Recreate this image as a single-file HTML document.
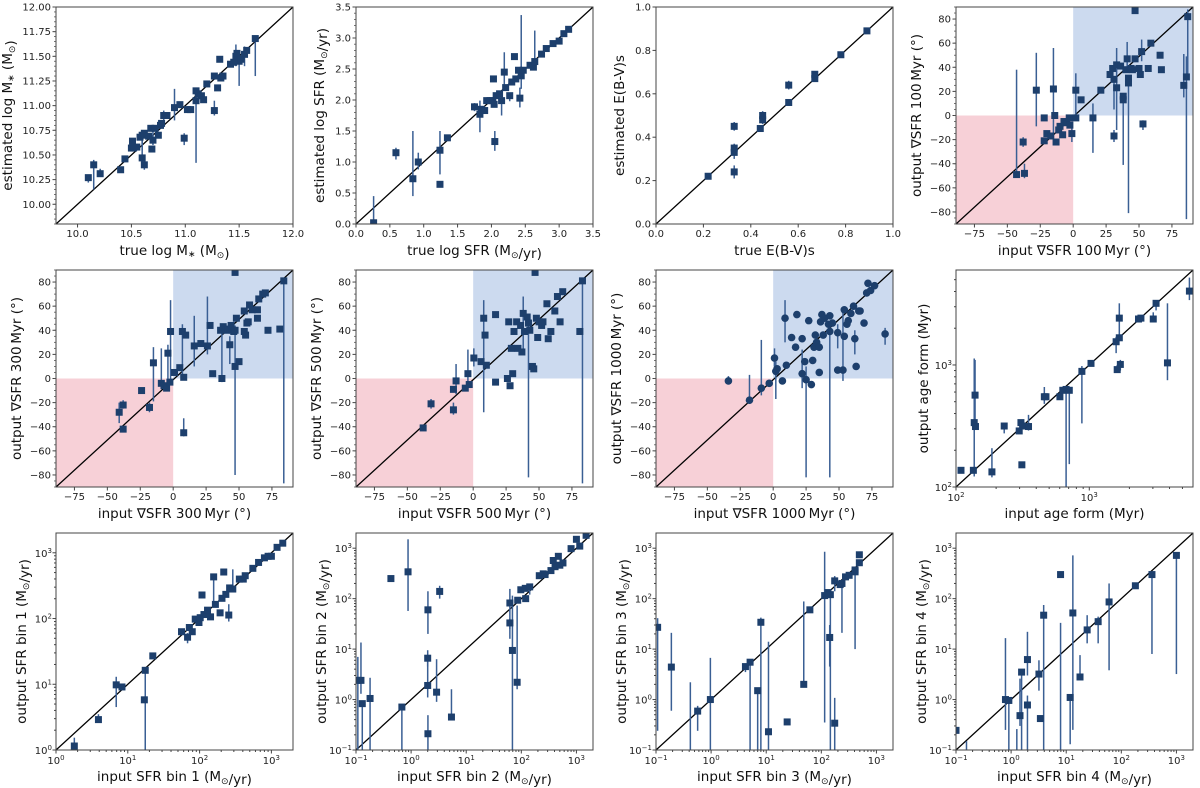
<!DOCTYPE html>
<html><head><meta charset="utf-8"><style>
html,body{margin:0;padding:0;background:#fff;}
svg{display:block;font-family:"DejaVu Sans","Liberation Sans",sans-serif;}
</style></head><body>
<svg id="fig" width="1200" height="788" viewBox="0 0 1200 788"></svg>
<script>
// ---- data: [x, y, yLo, yHi] (yLo/yHi optional) ----
const massPts=[[10.1,10.27,10.22,10.3],[10.15,10.4,10.15,10.45],[10.21,10.31,10.28,10.36],[10.4,10.35],[10.44,10.46],[10.5,10.57],[10.51,10.64],[10.52,10.57],[10.55,10.58],[10.58,10.68],[10.6,10.7,10.55,10.75],[10.6,10.47,10.4,10.7],[10.62,10.4,10.35,10.45],[10.62,10.72],[10.66,10.69],[10.68,10.77],[10.69,10.56],[10.7,10.65,10.6,10.8],[10.72,10.77],[10.75,10.7],[10.77,10.8],[10.78,10.82],[10.8,10.9,10.85,10.95],[10.83,10.9],[10.9,10.98,10.85,11.17],[10.95,11.01],[10.99,10.67,10.6,10.72],[11.02,10.96],[11.05,10.96],[11.1,11.05,10.42,11.1],[11.1,11.15],[11.12,11.12],[11.15,11.1],[11.17,11.06],[11.2,11.22],[11.27,10.95,10.9,11.05],[11.27,11.3],[11.3,11.18],[11.32,11.47],[11.33,11.28],[11.35,11.3],[11.42,11.42],[11.45,11.44],[11.47,11.5,11.4,11.62],[11.48,11.53],[11.5,11.45,11.2,11.5],[11.52,11.47],[11.55,11.52,11.4,11.6],[11.57,11.56],[11.65,11.68,11.3,11.7]];
const sfrPts=[[0.26,0.02,0,0.45],[0.59,1.15,1.04,1.23],[0.84,0.73,0.45,1.5],[0.92,1.0,0.88,1.15],[1.24,1.19,0.8,1.5],[1.24,0.64],[1.35,1.39],[1.75,1.89,1.82,1.95],[1.83,1.77,1.48,1.99],[1.85,1.85],[1.9,1.83],[1.93,1.99],[1.98,1.99],[2.03,2.34],[2.02,1.99],[2.04,1.93],[2.05,1.33,1.18,1.5],[2.07,2.07],[2.12,2.1],[2.15,1.99,1.75,2.1],[2.19,2.45,2.25,2.77],[2.21,2.2],[2.27,2.07,1.98,2.12],[2.3,2.29],[2.34,2.7],[2.36,2.34],[2.4,2.48],[2.42,2.03,1.88,2.2],[2.44,2.39,2.18,3.37],[2.47,2.48],[2.57,2.56],[2.62,2.53],[2.64,2.62,2.6,3.12],[2.74,2.74],[2.81,2.83],[2.91,2.91],[3.0,2.95],[3.07,3.07],[3.14,3.14]];
const ebvPts=[[0.22,0.22],[0.33,0.33,0.3,0.37],[0.33,0.35],[0.33,0.45,0.43,0.47],[0.33,0.24,0.21,0.27],[0.44,0.44],[0.45,0.48],[0.45,0.5,0.46,0.52],[0.56,0.56],[0.56,0.64,0.62,0.66],[0.67,0.67],[0.67,0.69],[0.78,0.78],[0.89,0.89]];
const grad100=[[-43,-49,-49,38],[-37,-48,-52,-40],[-38,-22,-26,-18],[-28,21,-9,52],[-22,-2],[-22,-21],[-20,-15],[-17,-17],[-15,22,-15,56],[-14,0],[-13,-22],[-11,-12],[-10,-9],[-8,-16],[-7,-5],[-5,-6],[-3,-2],[-1,-15,-22,-9],[-2.5,-8],[2,21,0,35],[2,-2],[6,13],[15,-2,-31,10],[21,21],[28,34],[30,39],[31,30,5,32],[31,-17,-22,-12],[33,42,24,56],[33,23,-12,25],[36,41],[38,16,-41,18],[38,13],[40,38],[41,47,40,61],[42,31],[42,27,-81,30],[44,39],[45,38],[47,47],[50,39],[51,34],[52,53,45,63],[53,-7,-12,-4],[57,39],[59,60],[66,50],[67,38],[47,87],[84,25,15,51],[86,32,-86,49],[87,82,30,88]];
const grad300=[[-41,-28,-37,-20],[-38,-22,-25,-18],[-38,-42],[-24,-10],[-18,-24,-28,-20],[-15,13,-19,26],[-9,-4,-8,25],[-7,-6],[-5,-8],[-4,21,-10,28],[-2.5,-3],[-2,39,-5,65],[1,5],[5,9],[7,39,0,45],[8,1],[8,-45,-48,-33],[9.5,36],[16,27,10,52],[21,29],[26,27,20,68],[28,44],[30,4],[36,40],[37,0,-3,40],[38,43],[40,40],[42,41],[44,44],[43,28,12,35],[45,40],[46,39],[47,40,-80,44],[47,10],[48,50],[50,14],[54,56],[54,39],[55,36],[56,46],[57,47],[58,61],[60,57],[64,50],[64,57],[65,66],[68,70],[70,71],[72,40],[81,41],[84,81,-87,83],[47,88]];
const grad500=[[-38,-41],[-32,-21,-25,-17],[-15,-26,-30,-20],[-15,-9],[-13,-2,-13,12],[-6,-8],[-4,4,-4,24],[-3,-5],[0.5,17,10,25],[6,14],[8,50,-28,65],[9,36],[10,11],[17,-3],[17,53],[26,0],[27,47],[28,-6],[29,25],[30,4],[31,39],[33,47],[34,25],[36,44],[37,22],[38,54,20,68],[39,39],[41,51],[42,46,-82,50],[43,40],[45,10],[46,8],[48,50],[49,34],[50,47],[52,44],[53,47],[56,62],[57,33],[59,39],[62,56],[64,68],[66,47],[68,72],[81,39],[83,81,-87,83],[47,88]];
const grad1000=[[-34,-2,-5,2],[-18,-18,-21,3],[-9,-8,-14,32],[-3,-4],[1,17,10,25],[2,6,-17,14],[3,8],[7,-2],[10,11],[9,50,30,65],[14,34],[17,26],[18,53],[22,33],[22,4,-8,24],[24,14],[25,-1,-82,10],[27,48],[29,-5],[30,15],[31,26],[32,36],[33,30],[35,26],[35,5],[36,47],[37,53],[38,36],[39,50],[42,45],[43,52],[43,39,-82,45],[45,46],[49,7],[49,38,25,45],[53,7,-2,57],[54,57],[54,35],[56,45],[57,48],[59,54],[61,60],[62,33,20,40],[63,10],[65,56],[66,56],[69,46],[71,71],[72,79],[74,73],[77,77],[85,37,28,42]];
const agePts=[[109,137],[135,137],[137,337,122,1130],[139,566,300,1100],[140,313],[186,133,120,208],[230,316,275,330],[298,288],[307,337],[312,152],[316,316],[350,313,290,390],[460,549,480,660],[473,549],[602,549],[633,620],[670,630,50,640],[708,620,154,640],[880,886,332,980],[1030,1030],[1590,1550,1250,1700],[1620,916,880,1000],[1680,2420,1700,3200],[1680,1670],[1710,1010,900,1100],[2340,2380],[2440,2420],[3020,2380,2300,2700],[3170,3200,2800,3300],[3860,1040,750,3200],[5640,4030,3400,5200]];
const bin1Pts=[[1.8,1.15,0.9,1.54],[3.9,2.9,2.7,3.5],[6.9,9.8,4.5,13],[8.3,9.1],[17.5,16.3,0.5,17],[17,5.8],[22.3,27],[56,63],[68,52,42,60],[72,73],[79,63],[87,98],[98,87],[102,103],[108,228],[115,115],[129,134],[142,106],[157,430,157,440],[166,164],[193,122],[205,203],[217,510],[232,233],[255,113,90,165],[262,292],[290,281,250,560],[358,398],[406,398],[432,448],[552,580],[663,713],[800,838],[900,885],[1000,885],[1200,1210],[1440,1400]];
const bin2Pts=[[0.108,2.4,0.05,7],[0.123,2.4,1.3,13.5],[0.13,0.83,0.05,0.9],[0.18,1.05,0.05,2.7],[0.43,250],[0.68,0.71,0.05,0.75],[0.88,340,57,1500],[2.0,6.6,4.5,9.5],[2.02,60,20,140],[2.0,1.9,1.1,6.5],[2.02,0.21,0.05,0.49],[2.9,1.4,0.9,6.3],[3.3,139,100,180],[5.4,0.45,0.4,1.6],[62,82,25,156],[62,33,16,40],[69,9.4,0.05,115],[84,2.2,1.6,73],[86,93],[98,150],[118,160],[120,100],[142,171,120,190],[212,285],[250,310],[270,300],[345,360],[380,570],[410,430],[470,690],[500,460],[570,510],[800,980],[1000,1500],[1150,1100],[1500,1800]];
const bin3Pts=[[0.107,27,0.24,41],[0.19,4.4,0.6,21],[0.42,0.05,0.05,2.2],[0.57,0.59,0.24,0.75],[0.97,1.0,0.05,6.7],[4.2,4.5,3.5,5],[5.1,5.5,0.05,6],[7.0,1.5,0.05,1.6],[8.0,34,0.05,42],[11,0.23,0.05,14],[24,0.36],[48,2.0,1.9,88],[62,60],[115,115,0.35,850],[132,132],[142,17,4.5,30],[146,120,0.05,150],[175,0.34,0.05,1.08],[175,225,140,280],[220,190],[237,200,21,220],[275,270],[320,290],[410,370],[410,340,10,420],[490,740],[490,515]];
const bin4Pts=[[0.1,0.245],[0.155,0.05,0.05,0.15],[0.79,1.0,0.25,16.5],[0.91,0.96,0.05,1.0],[1.27,0.05,0.05,0.26],[1.45,0.48,0.3,2.6],[1.55,3.5,0.05,3.8],[1.98,0.78,0.05,1.2],[1.98,6.2,3,22],[3.2,3.2,1.5,6],[3.4,0.42],[3.9,47,0.05,75],[7.9,300],[7.9,0.05,0.05,33],[11.8,1.1,0.13,1.2],[13.2,52,0.25,720],[17.8,2.8,2.5,7.6],[24,24,13,47],[38,35,13,44],[60,86,3.8,200],[180,180],[360,300,8,310],[1000,720,3.2,740]];

// ---- tick label arrays ----
const tickMassX=[10.0,10.5,11.0,11.5,12.0], tickMassY=[10.0,10.25,10.5,10.75,11.0,11.25,11.5,11.75,12.0];
const tickSfr=[0,0.5,1,1.5,2,2.5,3,3.5], tickEbv=[0,0.2,0.4,0.6,0.8,1.0];
const tickGradX=[-75,-50,-25,0,25,50,75], tickGradY=[-80,-60,-40,-20,0,20,40,60,80];

const NS="http://www.w3.org/2000/svg";
const svg=document.getElementById('fig');
function mk(tag,attrs,parent){const e=document.createElementNS(NS,tag);for(const k in attrs)e.setAttribute(k,attrs[k]);(parent||svg).appendChild(e);return e;}
const W=237,H=217;
let clipId=0;
function panel(o){
  const L=o.left,T=o.top;
  const g=mk('g',{});
  
  
  const tx=o.xlog?(v=>L+(Math.log10(v)-Math.log10(o.xd[0]))/(Math.log10(o.xd[1])-Math.log10(o.xd[0]))*W):(v=>L+(v-o.xd[0])/(o.xd[1]-o.xd[0])*W);
  const ty=o.ylog?(v=>T+H-(Math.log10(v)-Math.log10(o.yd[0]))/(Math.log10(o.yd[1])-Math.log10(o.yd[0]))*H):(v=>T+H-(v-o.yd[0])/(o.yd[1]-o.yd[0])*H);
  const cid='c'+(clipId++);
  const cp=mk('clipPath',{id:cid},g);mk('rect',{x:L,y:T,width:W,height:H},cp);
  const inner=mk('g',{'clip-path':'url(#'+cid+')'},g);
  if(o.quad){
    const r=mk('rect',{x:L,y:ty(0),width:tx(0)-L,height:T+H-ty(0),fill:'#f7d0d7'},inner);
    
    
    const b=mk('rect',{x:tx(0),y:T,width:L+W-tx(0),height:ty(0)-T,fill:'#ccdaef'},inner);
    
    
  }
  const dl=mk('line',{x1:L,y1:T+H,x2:L+W,y2:T,stroke:'#000','stroke-width':1.3},inner);
  
  
  o.pts.forEach(p=>{
    if(p.length>2){
      const e=mk('line',{x1:tx(p[0]),x2:tx(p[0]),y1:ty(p[2]),y2:ty(p[3]),stroke:'#3a5f94','stroke-width':1.5},inner);
      
      
    }
  });
  o.pts.forEach(p=>{
    let m;
    if(o.circle)m=mk('circle',{cx:tx(p[0]),cy:ty(p[1]),r:3.8,fill:'#1d3f6c'},inner);
    else m=mk('rect',{x:tx(p[0])-3.5,y:ty(p[1])-3.5,width:7,height:7,fill:'#1d3f6c'},inner);
    
    
  });
  mk('rect',{x:L,y:T,width:W,height:H,fill:'none',stroke:'#444','stroke-width':1},g);
  const fs=10;
  function tlab(x,y,anchor,txt,exp){
    const t=mk('text',{x:x,y:y,'text-anchor':anchor,'font-size':fs,fill:'#222'},g);
    
    
    if(exp!==undefined){t.appendChild(document.createTextNode('10'));const s=mk('tspan',{dy:-4,'font-size':7},t);s.textContent=exp;}
    else t.textContent=txt;
  }
  // x ticks
  if(o.xlog){
    const a=Math.ceil(Math.log10(o.xd[0])-1e-9),b=Math.floor(Math.log10(o.xd[1]));
    for(let d=Math.floor(Math.log10(o.xd[0]));d<=b;d++){for(let k=2;k<10;k++){const v=k*Math.pow(10,d);if(v>o.xd[0]&&v<o.xd[1])mk('line',{x1:tx(v),x2:tx(v),y1:T+H,y2:T+H+2,stroke:'#444'},g);}}
    for(let d=a;d<=b;d++){mk('line',{x1:tx(10**d),x2:tx(10**d),y1:T+H,y2:T+H+3.5,stroke:'#444'},g);tlab(tx(10**d),T+H+14,'middle',null,d===-1?'\u22121':String(d));}
  } else {
    o.xt.forEach(v=>{mk('line',{x1:tx(v),x2:tx(v),y1:T+H,y2:T+H+3.5,stroke:'#444'},g);tlab(tx(v),T+H+13,'middle',o.xf(v));});
  }
  if(o.ylog){
    const a=Math.ceil(Math.log10(o.yd[0])-1e-9),b=Math.floor(Math.log10(o.yd[1]));
    for(let d=Math.floor(Math.log10(o.yd[0]));d<=b;d++){for(let k=2;k<10;k++){const v=k*Math.pow(10,d);if(v>o.yd[0]&&v<o.yd[1])mk('line',{x1:L-2,x2:L,y1:ty(v),y2:ty(v),stroke:'#444'},g);}}
    for(let d=a;d<=b;d++){mk('line',{x1:L-3.5,x2:L,y1:ty(10**d),y2:ty(10**d),stroke:'#444'},g);tlab(L-4,ty(10**d)+4,'end',null,d===-1?'\u22121':String(d));}
  } else {
    o.yt.forEach(v=>{mk('line',{x1:L-3.5,x2:L,y1:ty(v),y2:ty(v),stroke:'#444'},g);tlab(L-5,ty(v)+3.5,'end',o.yf(v));});
    if(o.ym){for(let v=o.yd[0];v<=o.yd[1]+1e-9;v+=o.ym)mk('line',{x1:L-2,x2:L,y1:ty(v),y2:ty(v),stroke:'#555','stroke-width':0.8},g);}
  }
  const xl=mk('text',{x:L+W/2,y:T+H+31,'text-anchor':'middle','font-size':13.5,fill:'#111'},g);
  
  
  xl.innerHTML=o.xlab;
  const yx=L-o.yoff,yy=T+H/2;
  const yl=mk('text',{x:yx,y:yy,'text-anchor':'middle','font-size':13.5,fill:'#111',transform:'rotate(-90 '+yx+' '+yy+')'},g);
  
  
  yl.innerHTML=o.ylab;
}
const sun='M<tspan font-size="9" dy="3">\u2299</tspan><tspan dy="-3"></tspan>';
const minus=v=>String(v).replace('-','\u2212');
const C=[56,356,656,956],R=[7,270,533];
panel({name:'panel-stellar-mass',left:C[0],top:R[0],xd:[9.8,12],yd:[9.8,12],pts:massPts,xt:tickMassX,xf:v=>v.toFixed(1),yt:tickMassY,yf:v=>v.toFixed(2),ym:0.05,yoff:44,xlab:'true log M<tspan font-size="9" dy="2">\u2217</tspan><tspan dy="-2"> (</tspan>'+sun+')',ylab:'estimated log M<tspan font-size="9" dy="2">\u2217</tspan><tspan dy="-2"> (</tspan>'+sun+')'});
panel({name:'panel-sfr',left:C[1],top:R[0],xd:[0,3.5],yd:[0,3.5],pts:sfrPts,xt:tickSfr,xf:v=>v.toFixed(1),yt:tickSfr,yf:v=>v.toFixed(1),ym:0.1,yoff:32,xlab:'true log SFR ('+sun+'/yr)',ylab:'estimated log SFR ('+sun+'/yr)'});
panel({name:'panel-ebv',left:C[2],top:R[0],xd:[0,1],yd:[0,1],pts:ebvPts,xt:tickEbv,xf:v=>v.toFixed(1),yt:tickEbv,yf:v=>v.toFixed(1),yoff:32,xlab:'true E(B-V)s',ylab:'estimated E(B-V)s'});
panel({name:'panel-grad-100',left:C[3],top:R[0],xd:[-89,91],yd:[-90,90],quad:true,pts:grad100,xt:tickGradX,xf:minus,yt:tickGradY,yf:minus,ym:5,yoff:35,xlab:'input \u2207SFR 100\u2009Myr (\u00b0)',ylab:'output \u2207SFR 100\u2009Myr (\u00b0)'});
panel({name:'panel-grad-300',left:C[0],top:R[1],xd:[-89,91],yd:[-90,90],quad:true,pts:grad300,xt:tickGradX,xf:minus,yt:tickGradY,yf:minus,ym:5,yoff:35,xlab:'input \u2207SFR 300\u2009Myr (\u00b0)',ylab:'output \u2207SFR 300\u2009Myr (\u00b0)'});
panel({name:'panel-grad-500',left:C[1],top:R[1],xd:[-89,91],yd:[-90,90],quad:true,pts:grad500,xt:tickGradX,xf:minus,yt:tickGradY,yf:minus,ym:5,yoff:35,xlab:'input \u2207SFR 500\u2009Myr (\u00b0)',ylab:'output \u2207SFR 500\u2009Myr (\u00b0)'});
panel({name:'panel-grad-1000',left:C[2],top:R[1],xd:[-89,91],yd:[-90,90],quad:true,circle:true,pts:grad1000,xt:tickGradX,xf:minus,yt:tickGradY,yf:minus,ym:5,yoff:35,xlab:'input \u2207SFR 1000\u2009Myr (\u00b0)',ylab:'output \u2207SFR 1000\u2009Myr (\u00b0)'});
panel({name:'panel-age-form',left:C[3],top:R[1],xlog:true,ylog:true,xd:[100,6000],yd:[100,6000],pts:agePts,yoff:28,xlab:'input age form (Myr)',ylab:'output age form (Myr)'});
panel({name:'panel-sfr-bin1',left:C[0],top:R[2],xlog:true,ylog:true,xd:[1,2000],yd:[1,2000],pts:bin1Pts,yoff:30,xlab:'input SFR bin 1 ('+sun+'/yr)',ylab:'output SFR bin 1 ('+sun+'/yr)'});
panel({name:'panel-sfr-bin2',left:C[1],top:R[2],xlog:true,ylog:true,xd:[0.1,2000],yd:[0.1,2000],pts:bin2Pts,yoff:30,xlab:'input SFR bin 2 ('+sun+'/yr)',ylab:'output SFR bin 2 ('+sun+'/yr)'});
panel({name:'panel-sfr-bin3',left:C[2],top:R[2],xlog:true,ylog:true,xd:[0.1,2000],yd:[0.1,2000],pts:bin3Pts,yoff:30,xlab:'input SFR bin 3 ('+sun+'/yr)',ylab:'output SFR bin 3 ('+sun+'/yr)'});
panel({name:'panel-sfr-bin4',left:C[3],top:R[2],xlog:true,ylog:true,xd:[0.1,2000],yd:[0.1,2000],pts:bin4Pts,yoff:30,xlab:'input SFR bin 4 ('+sun+'/yr)',ylab:'output SFR bin 4 ('+sun+'/yr)'});
</script>
</body></html>
